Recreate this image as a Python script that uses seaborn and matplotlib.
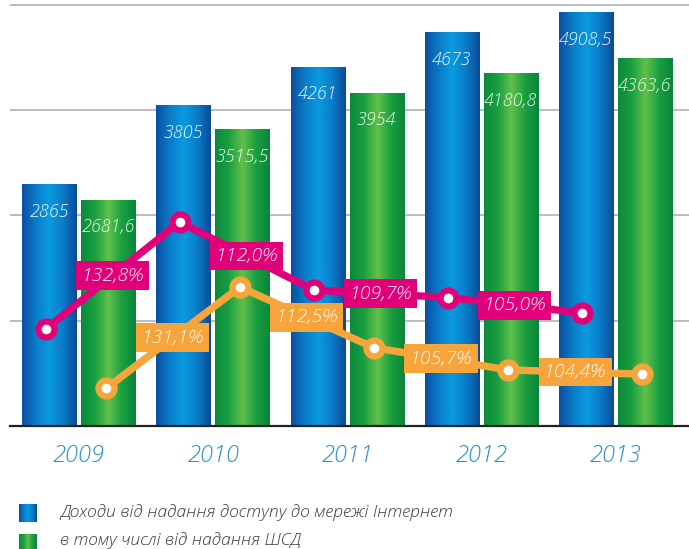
import numpy as np
import pandas as pd
import matplotlib
matplotlib.use("Agg")
import matplotlib.pyplot as plt
from matplotlib.colors import LinearSegmentedColormap
import seaborn as sns

sns.set_style("white")
plt.rcParams['font.family'] = ['Open Sans', 'DejaVu Sans']

# Data
years = ["2009", "2010", "2011", "2012", "2013"]
internet = [2865, 3805, 4261, 4673, 4908.5]
shsd = [2681.6, 3515.5, 3954, 4180.8, 4363.6]
growth_internet = [132.8, 112.0, 109.7, 105.0]
growth_shsd = [131.1, 112.5, 105.7, 104.4]
# point heights of the growth lines (2009 taken as base 100)
line_internet = [100] + growth_internet
line_shsd = [100] + growth_shsd
series_names = ["Доходи від надання доступу до мережі Інтернет",
                "в тому числі від надання ШСД"]

magenta = "#e2007a"
orange = "#f7a43a"
year_col = "#2a8fd0"
blue_cmap = LinearSegmentedColormap.from_list("b", ["#0b4e9f", "#0a7cc8", "#0a9ae0", "#0a7cc8", "#0b4a98"])
green_cmap = LinearSegmentedColormap.from_list("g", ["#0a8a3c", "#1a9f40", "#62c04c", "#1a9f40", "#08863a"])

df = pd.DataFrame({
    "year": years * 2,
    "series": [series_names[0]] * 5 + [series_names[1]] * 5,
    "value": internet + shsd,
})

fig = plt.figure(figsize=(6.89, 5.49), dpi=100)
ax = fig.add_axes([10 / 689, 123 / 549, 679 / 689, 426 / 549])

sns.barplot(data=df, x="year", y="value", hue="series", palette=["#0a7cc8", "#1a9f40"],
            width=0.88, gap=0.08, saturation=1, legend=False, ax=ax)

# gradient fill for the bars
grad = np.linspace(0, 1, 256)[np.newaxis, :]
for cont, cmap, vals in zip(ax.containers, [blue_cmap, green_cmap], [internet, shsd]):
    for patch, v in zip(cont.patches, vals):
        x0, w, h = patch.get_x(), patch.get_width(), patch.get_height()
        ax.imshow(grad, extent=[x0, x0 + w, 0, h], cmap=cmap, aspect="auto", zorder=2)
        patch.set_alpha(0)
        lbl = f"{v:g}".replace(".", ",")
        ax.annotate(lbl, (x0 + w / 2, h), xytext=(0, -19.5), textcoords="offset points",
                    ha="center", va="center", color="white", alpha=0.92,
                    fontsize=13, style="italic", fontweight="light", zorder=3)

ax.set_xlim(-0.515, 4.55)
ax.set_ylim(0, 5059)
ax.set_yticks([0, 1250, 2500, 3750, 5000])
ax.yaxis.grid(True, color="#b8b8b8", lw=1.3)
ax.set_axisbelow(True)
ax.tick_params(axis="y", length=0, labelleft=False)
ax.tick_params(axis="x", length=0, pad=13, labelsize=17, labelcolor=year_col)
for t in ax.get_xticklabels():
    t.set_style("italic")
    t.set_fontweight("light")
ax.set_xlabel("")
ax.set_ylabel("")
for s in ["top", "left", "right"]:
    ax.spines[s].set_visible(False)
ax.spines["bottom"].set_color("#222222")
ax.spines["bottom"].set_linewidth(1.6)

# growth lines on their own scales
x_int = np.arange(5) - 0.25
x_shsd = np.arange(5) + 0.2
for vals, xs, growth, col, lim in [(line_internet, x_int, growth_internet, magenta, (70.4, 200.7)),
                                   (line_shsd, x_shsd, growth_shsd, orange, (88.5, 219.1))]:
    tw = ax.twinx()
    sns.lineplot(x=xs, y=vals, ax=tw, color=col, lw=5.3, marker="o", ms=11.5,
                 mfc="white", mec=col, mew=4.5, zorder=4)
    tw.set_ylim(*lim)
    tw.axis("off")
    for i, g in enumerate(growth):
        xm = (xs[i] + xs[i + 1]) / 2
        ym = (vals[i] + vals[i + 1]) / 2
        tw.text(xm, ym, f"{g:.1f}".replace(".", ",") + "%", ha="center", va="center",
                color="white", fontsize=14, style="italic", fontweight="light", zorder=5,
                bbox=dict(boxstyle="square,pad=0.28", fc=col, ec="none"))

# legend
for (y0, hgt), cmap, name, ty in [((27, 18), blue_cmap, series_names[0], 36),
                                  ((0, 15), green_cmap, series_names[1], 8)]:
    lax = fig.add_axes([19 / 689, y0 / 549, 18 / 689, hgt / 549])
    lax.imshow(grad, cmap=cmap, aspect="auto")
    lax.axis("off")
    fig.text(60 / 689, ty / 549, name, ha="left", va="center", color="#3a3a3a",
             fontsize=12.5, style="italic", fontweight="light")

fig.savefig("out.png", dpi=100)
